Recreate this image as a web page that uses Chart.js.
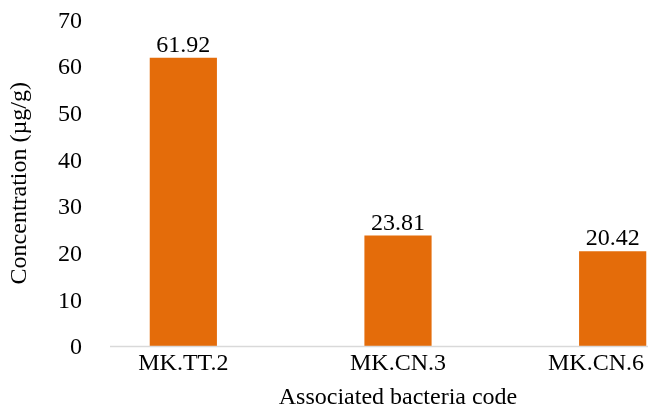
<!DOCTYPE html>
<html>
<head>
<meta charset="utf-8">
<script src="https://cdn.jsdelivr.net/npm/chart.js@4"></script>
<style>
  html, body { margin: 0; padding: 0; background: #fff; overflow: hidden; }
  #wrap { width: 720px; height: 412px; }
</style>
</head>
<body>
<div id="wrap"><canvas id="barChart"></canvas></div>
<script>
const categories = ['MK.TT.2', 'MK.CN.3', 'MK.CN.6'];
const concentration = [61.92, 23.81, 20.42];
const yTicks = [0, 10, 20, 30, 40, 50, 60, 70];

const serif = '"Liberation Serif", "Times New Roman", serif';
Chart.defaults.font.family = serif;
Chart.defaults.color = '#000';

const VISIBLE_RIGHT = 644;

// value labels above each bar
const valueLabels = {
  id: 'valueLabels',
  afterDatasetsDraw(chart) {
    const c = chart.ctx;
    const meta = chart.getDatasetMeta(0);
    c.save();
    c.font = '24px ' + serif;
    c.fillStyle = '#000';
    c.textAlign = 'center';
    c.textBaseline = 'bottom';
    meta.data.forEach((bar, i) => {
      c.fillText(concentration[i].toFixed(2), bar.x, bar.y);
    });
    c.restore();
  }
};

// axis line, y tick numbers and category labels (the last one kept inside the visible width)
const axisDecor = {
  id: 'axisDecor',
  afterDraw(chart) {
    const c = chart.ctx;
    const xs = chart.scales.x;
    const ys = chart.scales.y;
    const y0 = ys.getPixelForValue(0);
    c.save();
    c.strokeStyle = '#d9d9d9';
    c.lineWidth = 1.5;
    c.beginPath();
    c.moveTo(110, y0);
    c.lineTo(chart.chartArea.right, y0);
    c.stroke();

    c.font = '24px ' + serif;
    c.fillStyle = '#000';
    c.textBaseline = 'middle';

    c.textAlign = 'right';
    yTicks.forEach(v => {
      c.fillText(String(v), 82, ys.getPixelForValue(v) + 1.5);
    });

    c.textAlign = 'left';
    categories.forEach((label, i) => {
      const w = c.measureText(label).width;
      let left = xs.getPixelForValue(i) - w / 2;
      if (left + w > VISIBLE_RIGHT) left = VISIBLE_RIGHT - w;
      c.fillText(label, left, y0 + 3 + 14.4);
    });
    c.restore();
  }
};

new Chart(document.getElementById('barChart'), {
  type: 'bar',
  data: {
    labels: categories,
    datasets: [{
      data: concentration,
      backgroundColor: '#e46c0a',
      borderWidth: 0,
      barPercentage: 1,
      categoryPercentage: 0.313
    }]
  },
  options: {
    responsive: true,
    maintainAspectRatio: false,
    animation: false,
    layout: { padding: { top: 20, left: 0, right: 0, bottom: 0 } },
    scales: {
      x: {
        grid: { display: false, drawTicks: false },
        border: { display: false },
        ticks: { font: { size: 24 }, padding: 3, color: 'rgba(0,0,0,0)' },
        title: {
          display: true,
          text: 'Associated bacteria code',
          font: { size: 24 },
          padding: { top: 2, bottom: 0 },
          color: '#000'
        }
      },
      y: {
        min: 0,
        max: 70,
        afterBuildTicks(scale) {
          scale.ticks = yTicks.map(v => ({ value: v }));
        },
        afterFit(scale) { scale.width = 76; },
        grid: { display: false, drawTicks: false },
        border: { display: false },
        ticks: { font: { size: 24 }, padding: 0, color: 'rgba(0,0,0,0)' },
        title: {
          display: true,
          text: 'Concentration (µg/g)',
          font: { size: 24 },
          padding: { top: 5, bottom: 0 },
          color: '#000'
        }
      }
    },
    plugins: {
      legend: { display: false },
      tooltip: { enabled: false }
    }
  },
  plugins: [valueLabels, axisDecor]
});
</script>
</body>
</html>
